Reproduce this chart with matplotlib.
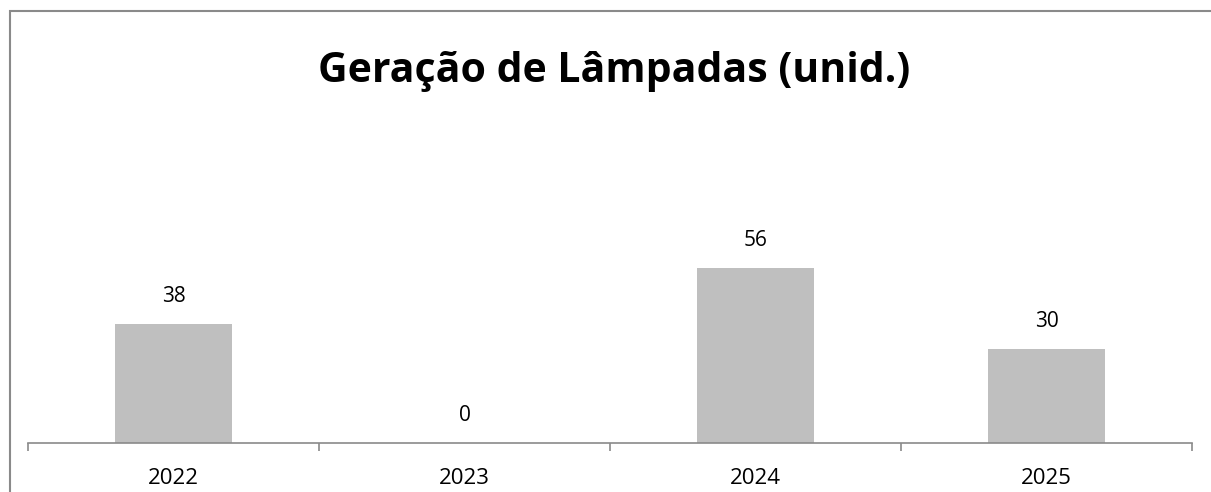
import matplotlib.pyplot as plt
from matplotlib.patches import Rectangle

anos = ['2022', '2023', '2024', '2025']
lampadas = [38, 0, 56, 30]
titulo = 'Geração de Lâmpadas (unid.)'

plt.rcParams['font.family'] = ['Open Sans', 'DejaVu Sans']

fig = plt.figure(figsize=(12.11, 4.92), dpi=100)
W, H = 1211, 492

# moldura do gráfico (cortada à direita e embaixo)
fig.patches.append(Rectangle((10 / W, -0.1), 1.2, (H - 11) / H + 0.1,
                             transform=fig.transFigure, fill=False,
                             edgecolor='#8a8a8a', linewidth=1.5))

ax = fig.add_axes([28 / W, 49 / H, (1192 - 28) / W, (443 - 130) / H])
x = range(len(anos))
bars = ax.bar(x, lampadas, width=0.4, color='#bfbfbf')
ax.set_xlim(-0.5, len(anos) - 0.5)
ax.set_ylim(0, 100)

for i, v in enumerate(lampadas):
    ax.annotate(str(v), (i, v), xytext=(0, 12), textcoords='offset points',
                ha='center', va='bottom', fontsize=15)

for s in ['top', 'right', 'left']:
    ax.spines[s].set_visible(False)
ax.spines['bottom'].set_color('#8a8a8a')
ax.spines['bottom'].set_linewidth(1.2)
ax.set_yticks([])
ax.set_xticks([i - 0.5 for i in range(len(anos) + 1)], minor=False)
ax.set_xticklabels([])
ax.tick_params(axis='x', length=6, color='#8a8a8a', width=1.2)
ax.set_xticks(list(x), minor=True)
ax.set_xticklabels(anos, minor=True, fontsize=16)
ax.tick_params(axis='x', which='minor', length=0, pad=18)

fig.text(614 / W, 1 - 72 / H, titulo, ha='center', va='center',
         fontsize=29.5, fontweight='bold')

fig.savefig('out.png', dpi=100)
